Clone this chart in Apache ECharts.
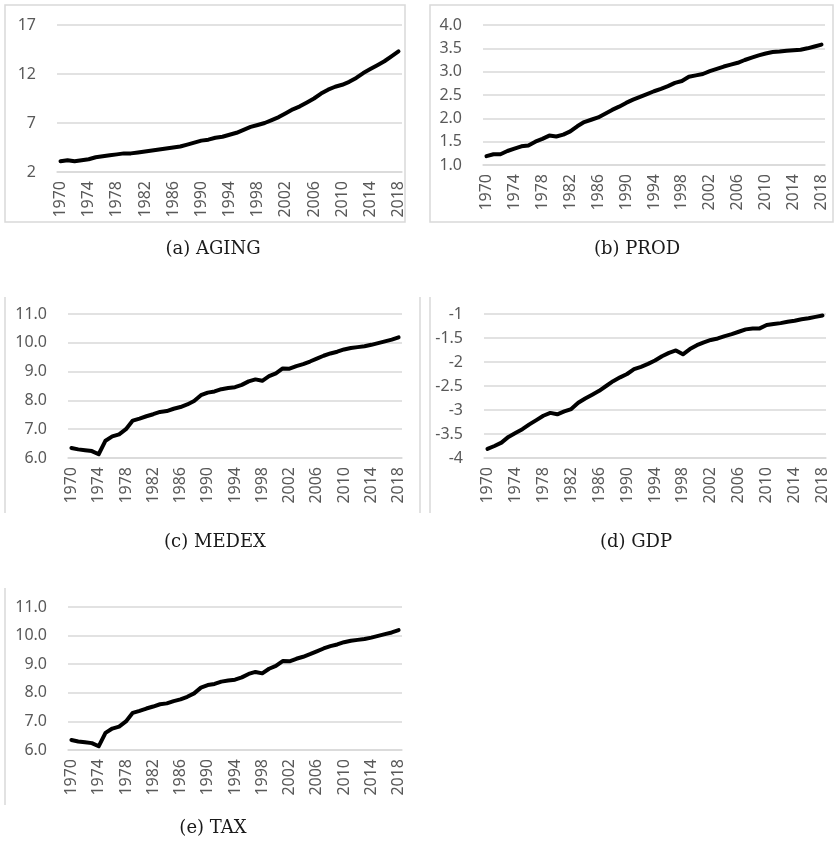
<!DOCTYPE html>
<html>
<head>
<meta charset="utf-8">
<style>
  html, body { margin: 0; padding: 0; background: #ffffff; }
  #chart { width: 837px; height: 847px; }
</style>
<script src="https://cdn.jsdelivr.net/npm/echarts@6/dist/echarts.min.js"></script>
</head>
<body>
<div id="chart"></div>
<script>
// Years 1970..2018
const years = [];
for (let y = 1970; y <= 2018; y++) years.push(String(y));

const agingValues = [3.1, 3.2, 3.1, 3.2, 3.3, 3.5, 3.6, 3.7, 3.8, 3.9,
  3.9, 4.0, 4.1, 4.2, 4.3, 4.4, 4.5, 4.6, 4.8, 5.0,
  5.2, 5.3, 5.5, 5.6, 5.8, 6.0, 6.3, 6.6, 6.8, 7.0,
  7.3, 7.6, 8.0, 8.4, 8.7, 9.1, 9.5, 10.0, 10.4, 10.7,
  10.9, 11.2, 11.6, 12.1, 12.5, 12.9, 13.3, 13.8, 14.3];

const prodValues = [1.19, 1.23, 1.23, 1.30, 1.35, 1.40, 1.42, 1.50, 1.56, 1.63,
  1.61, 1.65, 1.72, 1.83, 1.92, 1.97, 2.02, 2.10, 2.18, 2.25,
  2.33, 2.40, 2.46, 2.52, 2.58, 2.63, 2.69, 2.76, 2.80, 2.89,
  2.92, 2.95, 3.01, 3.06, 3.11, 3.15, 3.19, 3.25, 3.30, 3.35,
  3.39, 3.42, 3.43, 3.45, 3.46, 3.47, 3.50, 3.54, 3.58];

const medexValues = [6.35, 6.30, 6.27, 6.24, 6.13, 6.60, 6.75, 6.82, 7.00, 7.30,
  7.37, 7.45, 7.52, 7.60, 7.63, 7.71, 7.77, 7.86, 7.98, 8.18,
  8.27, 8.31, 8.39, 8.43, 8.46, 8.54, 8.66, 8.73, 8.68, 8.84,
  8.94, 9.11, 9.10, 9.19, 9.26, 9.35, 9.45, 9.55, 9.63, 9.69,
  9.77, 9.82, 9.85, 9.88, 9.93, 9.99, 10.05, 10.11, 10.19];

const gdpValues = [-3.81, -3.75, -3.68, -3.56, -3.48, -3.40, -3.30, -3.21, -3.12, -3.06,
  -3.09, -3.03, -2.98, -2.85, -2.76, -2.68, -2.60, -2.50, -2.40, -2.32,
  -2.25, -2.15, -2.10, -2.04, -1.97, -1.88, -1.81, -1.76, -1.84, -1.73,
  -1.65, -1.59, -1.54, -1.51, -1.46, -1.42, -1.37, -1.32, -1.30, -1.30,
  -1.23, -1.21, -1.19, -1.16, -1.14, -1.11, -1.09, -1.06, -1.03];

const taxValues = [6.35, 6.30, 6.27, 6.24, 6.13, 6.60, 6.75, 6.82, 7.00, 7.30,
  7.37, 7.45, 7.52, 7.60, 7.63, 7.71, 7.77, 7.86, 7.98, 8.18,
  8.27, 8.31, 8.39, 8.43, 8.46, 8.54, 8.66, 8.73, 8.68, 8.84,
  8.94, 9.11, 9.10, 9.19, 9.26, 9.35, 9.45, 9.55, 9.63, 9.69,
  9.77, 9.82, 9.85, 9.88, 9.93, 9.99, 10.05, 10.11, 10.19];

const panelTitles = ['(a) AGING', '(b) PROD', '(c) MEDEX', '(d) GDP', '(e) TAX'];

// Panel layout: plot rectangles, y scales, caption positions
const panels = [
  { data: agingValues, grid: { left: 57, top: 25, width: 345, height: 147 }, min: 2, max: 17, interval: 5, fmt: v => String(v), cap: [213, 249] },
  { data: prodValues, grid: { left: 483, top: 25, width: 342, height: 140 }, min: 1, max: 4, interval: 0.5, fmt: v => v.toFixed(1), cap: [637, 249] },
  { data: medexValues, grid: { left: 68, top: 314, width: 334, height: 144 }, min: 6, max: 11, interval: 1, fmt: v => v.toFixed(1), cap: [215, 542] },
  { data: gdpValues, grid: { left: 484, top: 314, width: 342, height: 144 }, min: -4, max: -1, interval: 0.5, fmt: v => String(Math.round(v * 10) / 10), cap: [636, 542] },
  { data: taxValues, grid: { left: 68, top: 607, width: 334, height: 143 }, min: 6, max: 11, interval: 1, fmt: v => v.toFixed(1), cap: [213, 828] }
];

const tickFont = '"Noto Sans", "Noto Sans CJK KR", sans-serif';
const gray = '#595959';
const rule = '#d9d9d9';

const option = {
  animation: false,
  backgroundColor: '#ffffff',
  grid: panels.map(p => Object.assign({ containLabel: false }, p.grid)),
  xAxis: panels.map((p, i) => ({
    type: 'category',
    gridIndex: i,
    data: years,
    boundaryGap: true,
    axisLine: { show: true, lineStyle: { color: rule, width: 1.5 } },
    axisTick: { show: false },
    splitLine: { show: false },
    axisLabel: {
      interval: 3,
      rotate: 90,
      margin: 9,
      color: gray,
      fontFamily: tickFont,
      fontSize: 16
    }
  })),
  yAxis: panels.map((p, i) => ({
    type: 'value',
    gridIndex: i,
    min: p.min,
    max: p.max,
    interval: p.interval,
    axisLine: { show: false },
    axisTick: { show: false },
    splitLine: { show: true, lineStyle: { color: rule, width: 1.5 } },
    axisLabel: {
      margin: 21,
      color: gray,
      fontFamily: tickFont,
      fontSize: 16,
      formatter: p.fmt
    }
  })),
  series: panels.map((p, i) => ({
    type: 'line',
    xAxisIndex: i,
    yAxisIndex: i,
    data: p.data,
    symbol: 'none',
    lineStyle: { color: '#000000', width: 4, cap: 'round', join: 'round' }
  })),
  graphic: [
    // panel frames
    { type: 'rect', shape: { x: 5, y: 5, width: 400, height: 217 }, style: { fill: 'none', stroke: rule, lineWidth: 1.5 }, silent: true },
    { type: 'rect', shape: { x: 430, y: 5, width: 403, height: 217 }, style: { fill: 'none', stroke: rule, lineWidth: 1.5 }, silent: true },
    { type: 'line', shape: { x1: 5, y1: 297, x2: 5, y2: 513 }, style: { stroke: rule, lineWidth: 1.5 }, silent: true },
    { type: 'line', shape: { x1: 420, y1: 297, x2: 420, y2: 513 }, style: { stroke: rule, lineWidth: 1.5 }, silent: true },
    { type: 'line', shape: { x1: 430, y1: 297, x2: 430, y2: 513 }, style: { stroke: rule, lineWidth: 1.5 }, silent: true },
    { type: 'line', shape: { x1: 5, y1: 588, x2: 5, y2: 805 }, style: { stroke: rule, lineWidth: 1.5 }, silent: true }
  ].concat(panels.map((p, i) => ({
    type: 'text',
    x: p.cap[0],
    y: p.cap[1],
    style: {
      text: panelTitles[i],
      fill: '#1a1a1a',
      font: '18px "DejaVu Serif", "Liberation Serif", serif',
      align: 'center',
      verticalAlign: 'middle'
    },
    silent: true
  })))
};

const chart = echarts.init(document.getElementById('chart'), null, { renderer: 'canvas' });
chart.setOption(option);
</script>
</body>
</html>
